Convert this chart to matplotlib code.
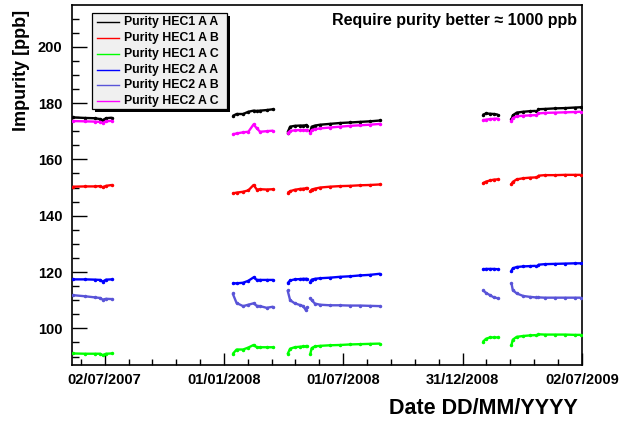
import numpy as np
import matplotlib
matplotlib.use("Agg")
import matplotlib.pyplot as plt
import matplotlib.dates as mdates
from matplotlib.patches import Rectangle
from matplotlib.lines import Line2D
from matplotlib.ticker import MultipleLocator, FixedLocator, NullFormatter

W, H = 621, 421
plt.rcParams['font.family'] = ['Liberation Sans', 'DejaVu Sans']
plt.rcParams['font.weight'] = 'bold'

# Sampling dates of each run period (one list per continuous period)
run_dates = [
    ["2007-05-14", "2007-06-02", "2007-06-17", "2007-06-25", "2007-06-29", "2007-07-04", "2007-07-13"],
    ["2008-01-14", "2008-01-20", "2008-01-30", "2008-02-07", "2008-02-15", "2008-02-20", "2008-02-25", "2008-03-06", "2008-03-16"],
    ["2008-04-07", "2008-04-11", "2008-04-18", "2008-04-26", "2008-05-01", "2008-05-05", "2008-05-07"],
    ["2008-05-12", "2008-05-14", "2008-05-19", "2008-05-27", "2008-06-11", "2008-06-26", "2008-07-12", "2008-07-27", "2008-08-11", "2008-08-27"],
    ["2009-01-31", "2009-02-05", "2009-02-11", "2009-02-17", "2009-02-23"],
    ["2009-03-16", "2009-03-18", "2009-03-24", "2009-04-03", "2009-04-13", "2009-04-22"],
    ["2009-04-26", "2009-05-06", "2009-05-22", "2009-06-06", "2009-06-21", "2009-06-30"],
]

# Impurity in ppb, per probe, one list per run period
hec1_aa = [
    [174.9, 174.7, 174.6, 174.3, 173.9, 174.6, 174.8],
    [175.4, 176.1, 176.1, 176.9, 177.3, 177.2, 177.3, 177.5, 177.8],
    [169.5, 171.6, 171.9, 172.0, 172.0, 172.1, 172.0],
    [170.0, 171.6, 172.0, 172.3, 172.6, 172.9, 173.1, 173.3, 173.5, 173.8],
    [175.8, 176.3, 176.2, 176.1, 175.9],
    [174.2, 175.6, 176.6, 176.9, 177.1, 177.2],
    [177.8, 177.9, 178.1, 178.2, 178.4, 178.5],
]
hec1_ab = [
    [150.3, 150.4, 150.4, 150.5, 150.1, 150.6, 150.9],
    [147.9, 148.2, 148.5, 149.0, 150.9, 149.3, 149.4, 149.3, 149.4],
    [148.1, 148.7, 149.2, 149.5, 149.6, 149.7, 149.7],
    [148.6, 149.3, 149.6, 150.0, 150.3, 150.5, 150.6, 150.8, 150.9, 151.1],
    [151.5, 152.1, 152.5, 152.8, 152.9],
    [151.2, 152.0, 152.9, 153.3, 153.5, 153.6],
    [154.2, 154.4, 154.4, 154.5, 154.5, 154.5],
]
hec1_ac = [
    [91.1, 91.0, 91.0, 91.0, 90.5, 91.0, 91.1],
    [90.9, 92.5, 92.5, 93.2, 94.1, 93.3, 93.3, 93.3, 93.3],
    [90.8, 92.8, 93.3, 93.5, 93.6, 93.6, 93.6],
    [91.0, 93.0, 93.6, 93.8, 94.0, 94.1, 94.3, 94.4, 94.5, 94.6],
    [95.2, 96.3, 96.8, 96.8, 96.8],
    [94.1, 96.0, 97.0, 97.3, 97.5, 97.6],
    [97.9, 97.8, 97.8, 97.8, 97.7, 97.7],
]
hec2_aa = [
    [117.4, 117.4, 117.3, 117.2, 116.6, 117.3, 117.4],
    [116.0, 116.0, 116.2, 116.9, 118.1, 117.2, 117.2, 117.2, 117.2],
    [116.0, 117.0, 117.4, 117.5, 117.6, 117.6, 117.6],
    [116.6, 117.3, 117.6, 117.8, 118.0, 118.3, 118.5, 118.8, 119.0, 119.4],
    [121.0, 121.1, 121.1, 121.1, 121.0],
    [120.5, 121.3, 121.8, 122.0, 122.1, 122.2],
    [122.6, 122.8, 122.9, 123.0, 123.1, 123.1],
]
hec2_ab = [
    [111.8, 111.4, 111.0, 110.8, 110.2, 110.5, 110.4],
    [112.4, 109.0, 107.9, 108.4, 108.9, 108.0, 107.9, 107.3, 107.7],
    [113.6, 110.0, 108.9, 108.3, 107.9, 106.5, 107.6],
    [110.8, 110.0, 108.8, 108.4, 108.2, 108.2, 108.1, 108.1, 108.0, 107.9],
    [113.6, 112.6, 111.8, 111.0, 110.7],
    [116.0, 113.6, 112.4, 111.5, 111.2, 111.0],
    [111.0, 110.9, 110.9, 110.9, 110.9, 110.9],
]
hec2_ac = [
    [173.6, 173.5, 173.4, 173.3, 172.9, 173.5, 173.7],
    [168.9, 169.2, 169.6, 169.8, 172.4, 171.0, 169.8, 170.0, 170.2],
    [169.3, 170.1, 170.3, 170.4, 170.4, 170.4, 170.4],
    [169.5, 170.4, 170.7, 171.0, 171.3, 171.6, 171.9, 172.1, 172.3, 172.6],
    [173.9, 174.1, 174.3, 174.4, 174.5],
    [173.7, 174.6, 175.3, 175.5, 175.6, 175.7],
    [176.3, 176.5, 176.6, 176.7, 176.8, 176.9],
]

series_labels = ["Purity HEC1 A A", "Purity HEC1 A B", "Purity HEC1 A C",
                 "Purity HEC2 A A", "Purity HEC2 A B", "Purity HEC2 A C"]
series_values = [hec1_aa, hec1_ab, hec1_ac, hec2_aa, hec2_ab, hec2_ac]
series_colors = ["#000000", "#ff0000", "#00ff00", "#0000ff", "#5954d8", "#ff00ff"]

tick_dates = ["2007-07-02", "2008-01-01", "2008-07-01", "2008-12-31", "2009-07-02"]
tick_labels = ["02/07/2007", "01/01/2008", "01/07/2008", "31/12/2008", "02/07/2009"]


def fx(x):
    return x / W


def fy(y):
    return 1 - y / H


fig = plt.figure(figsize=(W / 100, H / 100), dpi=100)
fig.patch.set_facecolor("white")
ax = fig.add_axes([fx(72.3), fy(365), fx(582) - fx(72.3), fy(5) - fy(365)])

for vals, color in zip(series_values, series_colors):
    for dates, v in zip(run_dates, vals):
        d = mdates.date2num(np.array(dates, dtype="datetime64[D]"))
        ax.plot(d, v, color=color, lw=1.7, marker="o", ms=1.5,
                solid_capstyle="butt", zorder=3)

# time axis
major = mdates.date2num(np.array(tick_dates, dtype="datetime64[D]"))
step = (major[-1] - major[0]) / (len(major) - 1) / 5.0
minor = [major[0] - step]
for a, b in zip(major[:-1], major[1:]):
    minor.extend(np.linspace(a, b, 6)[1:-1])
ax.set_xlim(major[0] - 49.6, major[-1])
ax.xaxis.set_major_locator(FixedLocator(major))
ax.xaxis.set_minor_locator(FixedLocator(minor))
ax.set_xticklabels(tick_labels)
ax.xaxis.set_minor_formatter(NullFormatter())

ax.set_ylim(87.0, 214.8)
ax.yaxis.set_major_locator(MultipleLocator(20))
ax.yaxis.set_minor_locator(MultipleLocator(5))

ax.tick_params(axis="both", which="both", direction="in", top=False, right=False,
               color="black", width=1.0)
ax.tick_params(axis="y", which="major", length=10.6, pad=7.0, labelsize=10.5)
ax.tick_params(axis="y", which="minor", length=5.3)
ax.tick_params(axis="x", which="major", length=8.5, pad=6.0, labelsize=10.5)
ax.tick_params(axis="x", which="minor", length=4.1)
for lab in ax.get_xticklabels() + ax.get_yticklabels():
    lab.set_fontweight("bold")
for sp in ax.spines.values():
    sp.set_linewidth(1.2)

# axis titles and note
fig.text(fx(22), fy(10), "Impurity [ppb]", rotation=90, ha="center", va="top",
         fontsize=13, fontweight="bold")
fig.text(fx(578), fy(408), "Date DD/MM/YYYY", ha="right", va="center",
         fontsize=15.5, fontweight="bold")
fig.text(fx(577), fy(20), "Require purity better \u2248 1000 ppb", ha="right",
         va="center", fontsize=11.5, fontweight="bold")

# legend box with shadow
lx0, ly0, lx1, ly1 = 91.7, 13.3, 226.7, 109.3
fig.add_artist(Rectangle((fx(lx0 + 3), fy(ly1 + 3)), fx(lx1 - lx0), (ly1 - ly0) / H,
                         transform=fig.transFigure, facecolor="black",
                         edgecolor="none", zorder=5))
fig.add_artist(Rectangle((fx(lx0), fy(ly1)), fx(lx1 - lx0), (ly1 - ly0) / H,
                         transform=fig.transFigure, facecolor="#f0f0f0",
                         edgecolor="black", lw=0.9, zorder=6))
for i, (label, color) in enumerate(zip(series_labels, series_colors)):
    yy = 22.3 + i * 15.75
    fig.add_artist(Line2D([fx(96.7), fx(119.3)], [fy(yy), fy(yy)],
                          transform=fig.transFigure, color=color, lw=1.0, zorder=7))
    fig.text(fx(124), fy(yy), label, ha="left", va="center", fontsize=8.8,
             fontweight="bold", zorder=7)

fig.savefig("out.png", dpi=100, facecolor="white")
